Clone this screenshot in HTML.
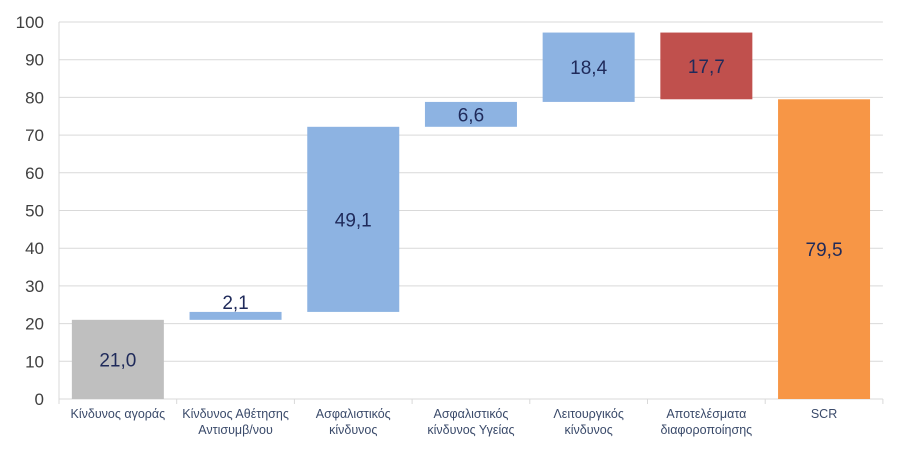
<!DOCTYPE html>
<html><head><meta charset="utf-8"><style>
body{margin:0;background:#fff;width:905px;height:451px;overflow:hidden}
svg{font-family:"Liberation Sans",sans-serif}
</style></head><body>
<svg id="chart" width="905" height="451"></svg>
<script>
const categories=["Κίνδυνος αγοράς","Κίνδυνος Αθέτησης|Αντισυμβ/νου","Ασφαλιστικός|κίνδυνος","Ασφαλιστικός|κίνδυνος Υγείας","Λειτουργικός|κίνδυνος","Αποτελέσματα|διαφοροποίησης","SCR"];
const values=[21.0,2.1,49.1,6.6,18.4,-17.7,79.5];
const kinds=["base","up","up","up","up","down","total"];
const valueLabels=["21,0","2,1","49,1","6,6","18,4","17,7","79,5"];
const yTicks=[0,10,20,30,40,50,60,70,80,90,100];
const colors={base:"#BFBFBF",up:"#8DB3E2",down:"#C0504D",total:"#F79646"};
const NS="http://www.w3.org/2000/svg";
const svg=document.getElementById('chart');
const x0=59,slot=117.7,y0=399,scale=3.77,bw=92;
const y=v=>y0-v*scale;
function mk(t,a){const e=document.createElementNS(NS,t);for(const k in a)e.setAttribute(k,a[k]);svg.appendChild(e);return e;}
yTicks.forEach(t=>{
  const g=mk('line',{x1:x0,x2:x0+slot*7,y1:y(t),y2:y(t),stroke:'#D9D9D9','stroke-width':1});
  
  
  const l=mk('text',{x:44,y:y(t)+6,'text-anchor':'end','font-size':17,fill:'#404040'});
  l.textContent=t;
  
  
});
const ax=mk('line',{x1:x0,x2:x0,y1:y(100),y2:y0+5,stroke:'#D9D9D9'});


for(let i=0;i<=7;i++){
  const tk=mk('line',{x1:x0+slot*i,x2:x0+slot*i,y1:y0,y2:y0+5,stroke:'#D9D9D9'});
  
  
}
let run=0;
values.forEach((v,i)=>{
  let lo,hi;
  if(kinds[i]==='total'){lo=0;hi=v;run=v;}
  else{const s=run;run+=v;lo=Math.min(s,run);hi=Math.max(s,run);}
  const cx=x0+slot*(i+0.5);
  const r=mk('rect',{x:cx-bw/2,y:y(hi),width:bw,height:(hi-lo)*scale,fill:colors[kinds[i]]});
  
  
  const small=(hi-lo)*scale<20;
  const ly=small?y(hi)-3:(y(hi)+y(lo))/2+7;
  const t=mk('text',{x:cx,y:ly,'text-anchor':'middle','font-size':19,fill:'#1F2A5A'});
  t.textContent=valueLabels[i];
  
  
  categories[i].split('|').forEach((ln,j)=>{
    const c=mk('text',{x:cx,y:418+j*16,'text-anchor':'middle','font-size':12.5,fill:'#3A4A6A'});
    c.textContent=ln;
    
    
  });
});
</script>
</body></html>
